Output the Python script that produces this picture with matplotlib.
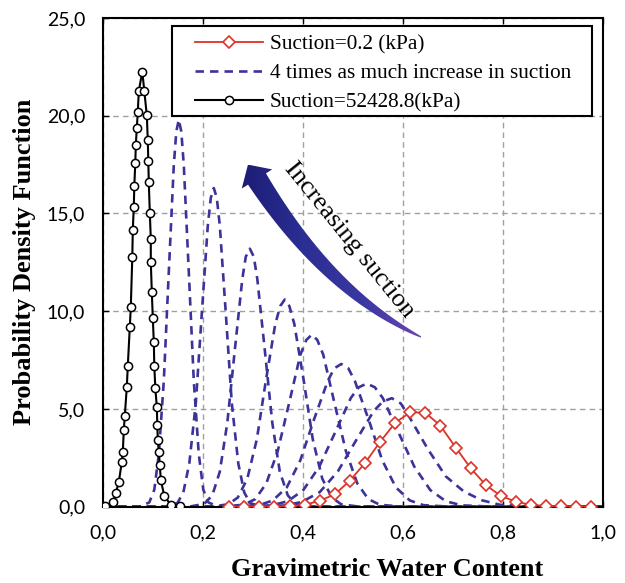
import numpy as np
import matplotlib
matplotlib.use("Agg")
import matplotlib.pyplot as plt
from matplotlib.patches import Polygon, Rectangle
from matplotlib.colors import LinearSegmentedColormap
from matplotlib.ticker import FuncFormatter

# suction = 0.2 kPa (red diamonds)
red_x = [0.252, 0.282, 0.312, 0.342, 0.373, 0.403, 0.433, 0.463, 0.493, 0.523,
         0.554, 0.584, 0.614, 0.644, 0.674, 0.705, 0.735, 0.765, 0.795, 0.825,
         0.856, 0.886, 0.916, 0.946, 0.976]
red_y = [0.0, 0.0, 0.0, 0.01, 0.03, 0.09, 0.31, 0.63, 1.33, 2.22,
         3.33, 4.30, 4.83, 4.81, 4.15, 3.02, 1.96, 1.11, 0.55, 0.26,
         0.09, 0.04, 0.02, 0.01, 0.0]

# suction = 52428.8 kPa (black circles)
black_x = [0.003, 0.020, 0.025, 0.031, 0.037, 0.039, 0.041, 0.043, 0.047, 0.049,
           0.053, 0.055, 0.058, 0.059, 0.061, 0.062, 0.064, 0.065, 0.067, 0.069,
           0.071, 0.078, 0.082, 0.087, 0.089, 0.090, 0.091, 0.093, 0.095, 0.095,
           0.097, 0.099, 0.101, 0.102, 0.104, 0.107, 0.108, 0.109, 0.111, 0.113,
           0.115, 0.122, 0.135, 0.153]
black_y = [0.04, 0.24, 0.70, 1.26, 2.29, 2.80, 3.93, 4.64, 6.13, 7.20,
           9.20, 10.22, 12.78, 14.17, 15.34, 16.41, 17.59, 18.51, 19.38, 20.19,
           21.27, 22.25, 21.27, 20.02, 18.74, 17.66, 16.59, 15.05, 13.70, 12.53,
           10.99, 9.66, 8.43, 7.20, 6.08, 5.11, 4.19, 3.42, 2.80, 2.14,
           1.37, 0.55, 0.09, 0.04]

# intermediate suctions, x4 each step (blue dashed), 0.8 kPa ... 13107.2 kPa
blue_x = [
    [0.0, 0.289, 0.361, 0.397, 0.433, 0.469, 0.505, 0.541, 0.559, 0.577, 0.595, 0.613, 0.649, 0.685, 0.721, 0.757, 0.793, 0.865, 1.0],
    [0.0, 0.274, 0.337, 0.369, 0.400, 0.432, 0.464, 0.495, 0.511, 0.527, 0.543, 0.559, 0.590, 0.622, 0.654, 0.685, 0.717, 0.780, 1.0],
    [0.0, 0.257, 0.312, 0.339, 0.367, 0.394, 0.421, 0.449, 0.462, 0.476, 0.490, 0.503, 0.531, 0.558, 0.585, 0.613, 0.640, 0.695, 1.0],
    [0.0, 0.236, 0.281, 0.304, 0.326, 0.349, 0.372, 0.394, 0.406, 0.417, 0.428, 0.440, 0.462, 0.485, 0.508, 0.530, 0.553, 0.598, 1.0],
    [0.0, 0.213, 0.250, 0.269, 0.288, 0.307, 0.325, 0.344, 0.354, 0.363, 0.372, 0.382, 0.401, 0.419, 0.438, 0.457, 0.476, 0.513, 1.0],
    [0.0, 0.172, 0.202, 0.218, 0.233, 0.248, 0.263, 0.278, 0.285, 0.293, 0.301, 0.308, 0.323, 0.338, 0.353, 0.369, 0.384, 0.414, 1.0],
    [0.0, 0.124, 0.148, 0.160, 0.172, 0.185, 0.197, 0.209, 0.215, 0.221, 0.227, 0.233, 0.245, 0.257, 0.270, 0.282, 0.294, 0.318, 1.0],
    [0.0, 0.072, 0.092, 0.102, 0.111, 0.121, 0.131, 0.141, 0.146, 0.151, 0.156, 0.161, 0.171, 0.181, 0.191, 0.200, 0.210, 0.230, 1.0],
]
blue_y = [
    [0, 0, 0.06, 0.24, 0.75, 1.80, 3.37, 4.90, 5.38, 5.55, 5.28, 4.55, 2.95, 1.55, 0.78, 0.33, 0.10, 0, 0],
    [0, 0, 0.07, 0.28, 0.85, 2.05, 3.82, 5.56, 6.11, 6.30, 6.11, 5.56, 3.82, 2.05, 0.85, 0.28, 0.07, 0, 0],
    [0, 0, 0.08, 0.32, 0.99, 2.37, 4.43, 6.44, 7.08, 7.30, 7.08, 6.44, 4.43, 2.37, 0.99, 0.32, 0.08, 0, 0],
    [0, 0, 0.10, 0.39, 1.19, 2.86, 5.34, 7.77, 8.53, 8.80, 8.53, 7.77, 5.34, 2.86, 1.19, 0.39, 0.10, 0, 0],
    [0, 0, 0.12, 0.47, 1.43, 3.44, 6.43, 9.35, 10.27, 10.60, 10.27, 9.35, 6.43, 3.44, 1.43, 0.47, 0.12, 0, 0],
    [0, 0, 0.15, 0.58, 1.79, 4.29, 8.01, 11.65, 12.79, 13.20, 12.79, 11.65, 8.01, 4.29, 1.79, 0.58, 0.15, 0, 0],
    [0, 0, 0.18, 0.72, 2.21, 5.29, 9.89, 14.38, 15.80, 16.30, 15.80, 14.38, 9.89, 5.29, 2.21, 0.72, 0.18, 0, 0],
    [0, 0, 0.22, 0.87, 2.68, 6.43, 12.01, 17.47, 19.19, 19.80, 19.19, 17.47, 12.01, 6.43, 2.68, 0.87, 0.22, 0, 0],
]

labels = ["Suction=0.2 (kPa)", "4 times as much increase in suction", "Suction=52428.8(kPa)"]
x_ticks = [0.0, 0.2, 0.4, 0.6, 0.8, 1.0]
y_ticks = [0, 5, 10, 15, 20, 25]

W, H = 625, 583
serif = "Liberation Serif"

fig = plt.figure(figsize=(W / 100, H / 100), dpi=100)
ax = fig.add_axes([103.3 / W, 1 - 506.7 / H, 500 / W, 488.7 / H])

blue = "#3b3399"
red = "#dc3228"

for i, (bx, by) in enumerate(zip(blue_x, blue_y)):
    ln, = ax.plot(bx, by, color=blue, lw=1.9, zorder=2)
    ln.set_dashes([3.2, 2.3])
    if i == 0:
        blue_handle = ln

black_handle, = ax.plot(black_x, black_y, color="black", lw=1.5, marker="o", ms=5.9,
                        mfc="white", mec="black", mew=1.1, zorder=3)
red_handle, = ax.plot(red_x, red_y, color=red, lw=1.3, marker="D", ms=6.0,
                      mfc="white", mec=red, mew=1.2, zorder=4)

ax.set_xlim(0, 1)
ax.set_ylim(0, 25)
ax.set_xticks(x_ticks)
ax.set_yticks(y_ticks)
fmt = FuncFormatter(lambda v, p: f"{v:.1f}".replace(".", ","))
ax.xaxis.set_major_formatter(fmt)
ax.yaxis.set_major_formatter(fmt)
ax.tick_params(direction="in", length=4, width=1, pad=13, labelsize=14,
               top=True, right=False)
for lab in ax.get_xticklabels() + ax.get_yticklabels():
    lab.set_fontfamily("Lato")
ax.grid(True, color="#a0a0a0", lw=1.0, linestyle=(0, (4, 3)))
ax.set_axisbelow(True)
for s in ax.spines.values():
    s.set_linewidth(1.5)

fig.text(387 / W, 1 - 569 / H, "Gravimetric Water Content", family=serif,
         weight="bold", fontsize=19, ha="center", va="center")
fig.text(25 / W, 1 - 262 / H, "Probability Density Function", family=serif,
         weight="bold", fontsize=19, ha="center", va="center", rotation=90)

# legend: frame drawn as a rectangle, entries placed without frame
ax.add_patch(Rectangle((0.137, 0.80), 0.84, 0.1836, transform=ax.transAxes,
                       facecolor="white", edgecolor="black", lw=1.5, zorder=6))
leg = ax.legend([red_handle, blue_handle, black_handle], labels,
                loc="upper left", bbox_to_anchor=((195 - 103.3) / 500, (506.7 - 34.5) / 488.7),
                frameon=False, borderpad=0, borderaxespad=0, handlelength=3.2,
                handletextpad=0.33, labelspacing=0.43, numpoints=1,
                prop={"family": serif, "size": 15.3})
leg.set_zorder(7)

# curved "increasing suction" arrow, built in image pixel coordinates
def to_data(px, py):
    pts = np.column_stack([px, H - np.asarray(py)])
    return ax.transData.inverted().transform(pts)

p0 = np.array([421.0, 337.0])
p1 = np.array([328.0, 292.0])
p2 = np.array([257.0, 179.0])
t = np.linspace(0, 1, 80)[:, None]
curve = (1 - t) ** 2 * p0 + 2 * (1 - t) * t * p1 + t ** 2 * p2
tang = 2 * (1 - t) * (p1 - p0) + 2 * t * (p2 - p1)
tang = tang / np.linalg.norm(tang, axis=1)[:, None]
norm = np.column_stack([-tang[:, 1], tang[:, 0]])
half = (0.6 + 10.0 * t[:, 0] ** 0.8)[:, None]
side_a = curve + norm * half
side_b = curve - norm * half
u = tang[-1]
nv = norm[-1]
head = [p2 + nv * 18, p2 + u * 17, p2 - nv * 18]
outline = np.vstack([side_a, head, side_b[::-1]])
poly_xy = to_data(outline[:, 0], outline[:, 1])
arrow = Polygon(poly_xy, closed=True, facecolor="none", edgecolor="none",
                transform=ax.transData, zorder=5)
ax.add_patch(arrow)
cmap = LinearSegmentedColormap.from_list("arr", ["#1d1d76", "#2b2e92", "#3a37a2", "#6b45b2"])
grad = np.linspace(0, 1, 256)[None, :]
x0, y0 = poly_xy.min(axis=0)
x1, y1 = poly_xy.max(axis=0)
img = ax.imshow(grad, cmap=cmap, extent=[x0, x1, y0, y1], aspect="auto",
                origin="lower", zorder=5, interpolation="bilinear")
img.set_clip_path(arrow)
ax.set_xlim(0, 1)
ax.set_ylim(0, 25)

fig.text(349 / W, 1 - 240 / H, "Increasing suction", family=serif, fontsize=19,
         rotation=-51, ha="center", va="center", rotation_mode="anchor")

fig.savefig("out.png", dpi=100, facecolor="white")
